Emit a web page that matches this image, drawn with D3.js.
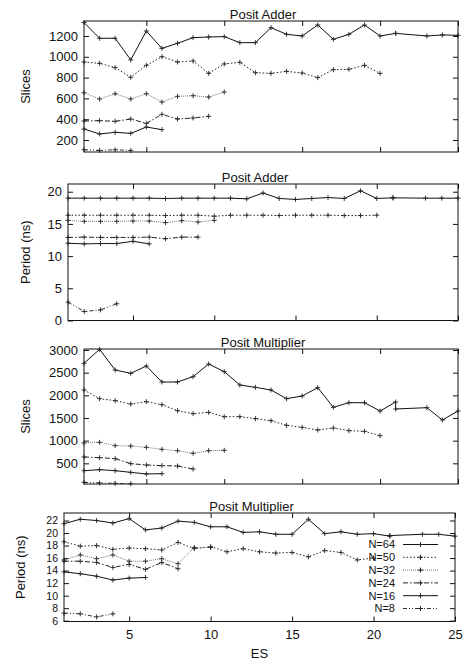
<!DOCTYPE html>
<html>
<head>
<meta charset="utf-8">
<script src="https://cdn.jsdelivr.net/npm/d3@7"></script>
<style>
body { margin: 0; background: #fff; }
svg text { font-family: "Liberation Sans", Arial, Helvetica, sans-serif; }
</style>
</head>
<body>
<svg id="chart" width="465" height="662"></svg>
<script>
// ES values per word size
const es64 = [1, 2, 3, 4, 5, 6, 7, 8, 9, 10, 11, 12, 13, 14, 15, 16, 17, 18, 19, 20, 21, 21, 23, 24, 25];
const es50 = [1, 2, 3, 4, 5, 6, 7, 8, 9, 10, 11, 12, 13, 14, 15, 16, 17, 18, 19, 20];
const es32 = [1, 2, 3, 4, 5, 6, 7, 8, 9, 10];
const es24Add = [1, 2, 3, 4, 5, 6, 7, 8, 9];
const es24Mul = [1, 2, 3, 4, 5, 6, 7, 8];
const es16 = [1, 2, 3, 4, 5, 6];
const es8 = [1, 2, 3, 4];

// Posit Adder - slices
const addSlices64 = [1330, 1178, 1178, 970, 1248, 1081, 1130, 1184, 1190, 1194, 1136, 1136, 1280, 1216, 1200, 1306, 1168, 1216, 1306, 1200, 1225, 1225, 1200, 1210, 1206];
const addSlices50 = [950, 937, 896, 803, 918, 1001, 950, 960, 841, 931, 947, 847, 841, 860, 844, 800, 876, 880, 918, 841];
const addSlices32 = [655, 594, 645, 594, 645, 565, 620, 626, 613, 662];
const addSlices24 = [383, 386, 380, 402, 360, 447, 402, 412, 428];
const addSlices16 = [306, 258, 274, 264, 325, 300];
const addSlices8 = [107, 100, 107, 100];

// Posit Adder - period (ns)
const addPeriod64 = [19.0, 19.0, 19.0, 19.0, 19.0, 19.0, 18.95, 19.0, 19.0, 19.0, 19.0, 18.9, 19.8, 18.95, 18.8, 18.95, 19.1, 18.95, 20.15, 18.95, 19.05, 19.05, 19.0, 19.0, 19.0];
const addPeriod50 = [16.35, 16.35, 16.35, 16.35, 16.35, 16.35, 16.3, 16.35, 16.35, 16.2, 16.35, 16.35, 16.35, 16.3, 16.35, 16.35, 16.35, 16.3, 16.3, 16.35];
const addPeriod32 = [15.55, 15.4, 15.4, 15.4, 15.45, 15.45, 15.2, 15.5, 15.3, 15.55];
const addPeriod24 = [12.9, 12.95, 12.9, 12.9, 12.9, 12.95, 12.7, 12.95, 12.95];
const addPeriod16 = [12.0, 11.9, 11.95, 11.95, 12.3, 11.9];
const addPeriod8 = [2.85, 1.4, 1.65, 2.6];

// Posit Multiplier - slices
const mulSlices64 = [2706, 3015, 2559, 2485, 2647, 2294, 2294, 2412, 2691, 2522, 2228, 2176, 2118, 1926, 1985, 2169, 1735, 1838, 1838, 1654, 1853, 1699, 1728, 1456, 1654];
const mulSlices50 = [2118, 1926, 1882, 1809, 1860, 1794, 1662, 1596, 1625, 1529, 1529, 1485, 1441, 1338, 1294, 1235, 1279, 1221, 1206, 1110];
const mulSlices32 = [949, 963, 890, 882, 853, 809, 779, 721, 779, 787];
const mulSlices24 = [640, 625, 603, 493, 463, 449, 441, 375];
const mulSlices16 = [338, 360, 338, 301, 265, 272];
const mulSlices8 = [81, 66, 59, 51];

// Posit Multiplier - period (ns)
const mulPeriod64 = [21.5, 22.2, 22.0, 21.6, 22.3, 20.5, 20.8, 21.9, 21.7, 21.0, 21.0, 20.1, 20.2, 19.8, 19.8, 22.2, 19.9, 20.2, 19.8, 19.9, 19.5, 19.6, 19.8, 19.8, 19.5];
const mulPeriod50 = [18.6, 17.9, 18.0, 17.4, 17.6, 17.5, 17.3, 18.5, 17.5, 17.8, 17.0, 17.5, 17.0, 16.8, 16.9, 16.2, 17.2, 16.9, 15.7, 16.0];
const mulPeriod32 = [15.7, 16.5, 15.9, 16.5, 15.5, 15.5, 15.9, 15.1, 17.7, 17.7];
const mulPeriod24 = [15.5, 15.5, 15.3, 14.5, 15.0, 14.2, 15.3, 14.3];
const mulPeriod16 = [13.8, 13.5, 13.1, 12.5, 12.8, 12.9];
const mulPeriod8 = [7.2, 7.1, 6.6, 7.1];

// ticks
const esTicks = [5, 10, 15, 20, 25];
const addSlicesTicks = [200, 400, 600, 800, 1000, 1200];
const addPeriodTicks = [0, 5, 10, 15, 20];
const mulSlicesTicks = [500, 1000, 1500, 2000, 2500, 3000];
const mulPeriodTicks = [6, 8, 10, 12, 14, 16, 18, 20, 22];

const seriesLabels = ["N=64", "N=50", "N=32", "N=24", "N=16", "N=8"];

// line styles, one per series (gnuplot monochrome look)
const seriesDash = [null, "1.5,2", "1,1", "5,2,1.5,2", null, "4,2,1,2,1,2"];
const seriesColor = ["#111", "#222", "#777", "#222", "#111", "#333"];

const svg = d3.select("#chart");
const fontSize = "13px";
const tickLen = 5;

function drawPanel(o) {
    const x = d3.scaleLinear().domain([1, 25]).range([o.left, o.right]);
    const y = d3.scaleLinear().domain(o.yDomain).range([o.bottom, o.top]);
    const g = svg.append("g");

    // axes, ticks pointing inside and mirrored
    const left = g.append("g")
        .attr("transform", `translate(${o.left},0)`)
        .call(d3.axisLeft(y).tickValues(o.yTicks).tickSizeInner(-tickLen).tickSizeOuter(0).tickPadding(6)
            .tickFormat(d3.format("d")));
    g.append("g")
        .attr("transform", `translate(${o.right},0)`)
        .call(d3.axisRight(y).tickValues(o.yTicks).tickSizeInner(-tickLen).tickSizeOuter(0).tickFormat(""));
    const bottom = g.append("g")
        .attr("transform", `translate(0,${o.bottom})`)
        .call(d3.axisBottom(x).tickValues(esTicks).tickSizeInner(-tickLen).tickSizeOuter(0).tickPadding(8)
            .tickFormat(o.xLabels ? d3.format("d") : ""));
    g.append("g")
        .attr("transform", `translate(0,${o.top})`)
        .call(d3.axisTop(x).tickValues(esTicks).tickSizeInner(-tickLen).tickSizeOuter(0).tickFormat(""));

    g.selectAll(".domain").remove();
    g.selectAll(".tick line").attr("stroke", "#111");
    g.selectAll(".tick text")
        .attr("fill", "#111")
        .style("font-size", fontSize)
        .style("font-family", '"Liberation Sans", Arial, sans-serif');
    if (o.yTickFont) left.selectAll(".tick text").style("font-size", o.yTickFont);
    bottom.selectAll(".tick text").attr("dy", "0.71em");

    // frame
    g.append("rect")
        .attr("x", o.left).attr("y", o.top)
        .attr("width", o.right - o.left).attr("height", o.bottom - o.top)
        .attr("fill", "none").attr("stroke", "#111").attr("stroke-width", 1);

    // title
    g.append("text")
        .attr("x", (o.left + o.right) / 2 - 8)
        .attr("y", o.top - 2.5)
        .attr("text-anchor", "middle")
        .attr("fill", "#111")
        .style("font-size", fontSize)
        .text(o.title);

    // y label
    g.append("text")
        .attr("transform", `translate(${o.yLabelX},${(o.top + o.bottom) / 2}) rotate(-90)`)
        .attr("dy", "0.35em")
        .attr("text-anchor", "middle")
        .attr("fill", "#111")
        .style("font-size", fontSize)
        .text(o.yLabel);

    const line = d3.line().x(d => x(d[0])).y(d => y(d[1]));
    const plus = "M-2.5,0H2.5M0,-2.5V2.5";

    o.series.forEach(([esVals, vals], i) => {
        const pts = esVals.map((e, k) => [e, vals[k]]);
        g.append("path")
            .datum(pts)
            .attr("d", line)
            .attr("fill", "none")
            .attr("stroke", seriesColor[i])
            .attr("stroke-width", 1)
            .attr("stroke-dasharray", seriesDash[i]);
        g.append("g").selectAll("path")
            .data(pts)
            .join("path")
            .attr("transform", d => `translate(${x(d[0])},${y(d[1])})`)
            .attr("d", plus)
            .attr("stroke", "#222")
            .attr("stroke-width", 0.9);
    });

    if (o.legend) {
        const lg = g.append("g");
        seriesLabels.forEach((lab, i) => {
            const ly = o.legendY + i * 12.8;
            lg.append("text")
                .attr("x", o.legendX)
                .attr("y", ly)
                .attr("dy", "0.35em")
                .attr("text-anchor", "end")
                .attr("fill", "#111")
                .style("font-size", "11px")
                .text(lab);
            lg.append("line")
                .attr("x1", o.legendX + 8).attr("x2", o.legendX + 43)
                .attr("y1", ly).attr("y2", ly)
                .attr("stroke", seriesColor[i])
                .attr("stroke-width", 1)
                .attr("stroke-dasharray", seriesDash[i]);
            lg.append("path")
                .attr("transform", `translate(${o.legendX + 25.5},${ly})`)
                .attr("d", plus)
                .attr("stroke", "#222");
        });
    }

    if (o.xTitle) {
        g.append("text")
            .attr("x", (o.left + o.right) / 2)
            .attr("y", o.bottom + 36)
            .attr("text-anchor", "middle")
            .attr("fill", "#111")
            .style("font-size", fontSize)
            .text(o.xTitle);
    }
}

drawPanel({
    left: 84, right: 458, top: 21, bottom: 152,
    yDomain: [85, 1344], yTicks: addSlicesTicks,
    title: "Posit Adder", yLabel: "Slices", yLabelX: 25,
    series: [[es64, addSlices64], [es50, addSlices50], [es32, addSlices32],
             [es24Add, addSlices24], [es16, addSlices16], [es8, addSlices8]]
});

drawPanel({
    left: 68, right: 458, top: 184, bottom: 320.5,
    yDomain: [0, 21.2], yTicks: addPeriodTicks,
    title: "Posit Adder", yLabel: "Period (ns)", yLabelX: 25,
    series: [[es64, addPeriod64], [es50, addPeriod50], [es32, addPeriod32],
             [es24Add, addPeriod24], [es16, addPeriod16], [es8, addPeriod8]]
});

drawPanel({
    left: 84, right: 458, top: 349, bottom: 484,
    yDomain: [44, 3022], yTicks: mulSlicesTicks,
    title: "Posit Multiplier", yLabel: "Slices", yLabelX: 25,
    series: [[es64, mulSlices64], [es50, mulSlices50], [es32, mulSlices32],
             [es24Mul, mulSlices24], [es16, mulSlices16], [es8, mulSlices8]]
});

drawPanel({
    left: 64, right: 455, top: 513, bottom: 621.5,
    yDomain: [5.87, 23.2], yTicks: mulPeriodTicks, yTickFont: "10.5px",
    title: "Posit Multiplier", yLabel: "Period (ns)", yLabelX: 20,
    xLabels: true, xTitle: "ES",
    legend: true, legendX: 395, legendY: 544.5,
    series: [[es64, mulPeriod64], [es50, mulPeriod50], [es32, mulPeriod32],
             [es24Mul, mulPeriod24], [es16, mulPeriod16], [es8, mulPeriod8]]
});
</script>
</body>
</html>
